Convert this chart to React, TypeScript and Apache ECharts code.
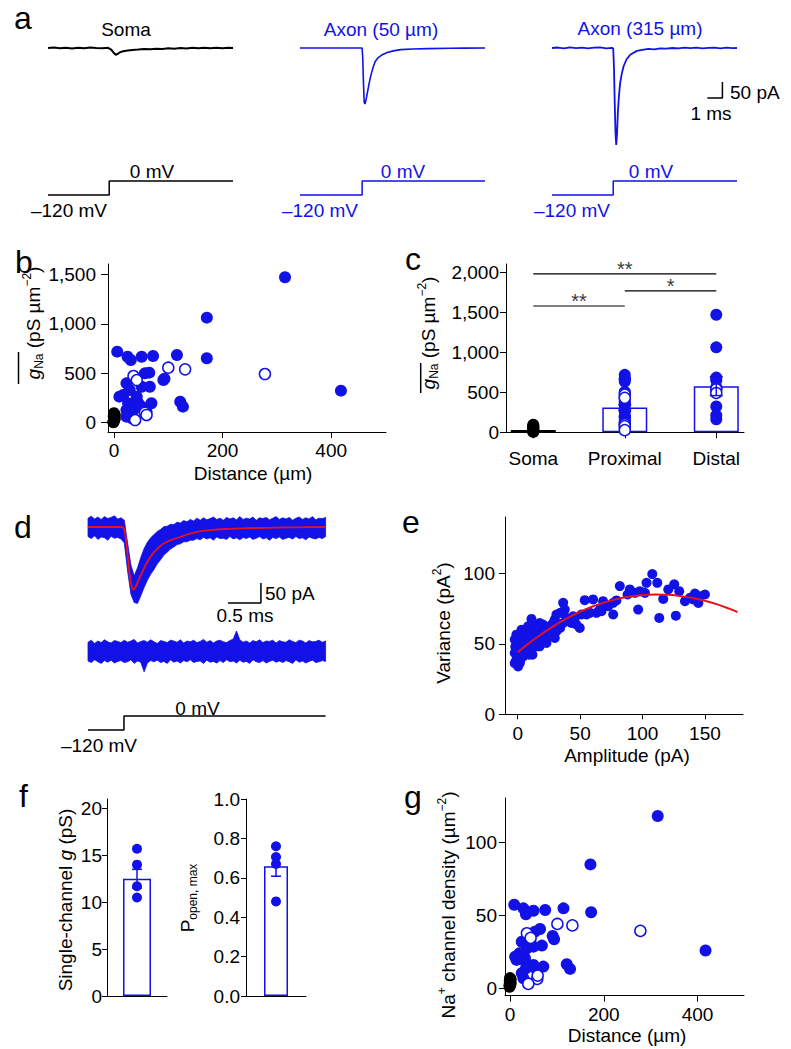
import React, { useEffect, useRef } from "react";
import * as echarts from "echarts";

const BLUE = "#1212e6";
const RED = "#e8101c";
const FONT = "'Liberation Sans', Arial, Helvetica, sans-serif";

// ---------------- panel a : currents (pA) vs time (ms) ----------------
const somaT = [0,0.4,0.8,1.2,1.6,2,2.4,2.8,3.2,3.6,4,4.2,4.35,4.5,4.65,4.8,5,5.3,5.6,6,6.4,6.8,7.2,7.6,8,8.4,8.8,9.2,9.6,10,10.4,10.8,11.2,11.6,12,12.3];
const somaI = [0,1.5,-1,1,-1.5,1,-0.5,1.5,0,-1,0.5,-5,-14,-21,-18,-13,-10,-8,-6,-5,-3,-4,-2,-3,-1,-2,0,-1.5,0.5,-1,1,-0.5,1,-1,0.5,0];
const ax50T = [0,1,2,3,4,4.13,4.17,4.22,4.27,4.32,4.4,4.5,4.6,4.7,4.85,5.0,5.2,5.5,5.8,6.2,6.7,7.5,8.5,10,11,12.3];
const ax50I = [0,0,0,0,0,0,-30,-110,-170,-175,-160,-135,-110,-88,-62,-42,-30,-20,-14,-9,-5,-3,-2,-1,-0.5,0];
const ax315T = [0,0.4,0.8,1.2,1.6,2,2.4,2.8,3.2,3.6,4,4.07,4.12,4.17,4.22,4.27,4.32,4.38,4.45,4.53,4.64,4.76,4.95,5.2,5.64,6.0,6.4,6.8,7.2,7.6,8,8.4,8.8,9.2,9.6,10,10.4,10.8,11.2,11.6,12,12.3];
const ax315I = [0,1.5,-1,2,-0.5,1,-1.5,1,2,-1,0.5,-2,-60,-170,-265,-303,-270,-200,-150,-110,-80,-57,-36,-21,-9,-6,-3,-4,-1,-2,0,-1,1,-0.5,1.5,-1,0.5,1,-1,1.5,-0.5,0];
const stepSomaT = [0, 4.07, 4.07, 12.3];
const stepAx50T = [0, 4.13, 4.13, 12.3];
const stepAx315T = [0, 4.07, 4.07, 12.3];
const stepV = [-120, -120, 0, 0];
const aScaleT = [10.33, 11.33, 11.33];
const aScaleI = [-156, -156, -106];

// ---------------- panel b : g_Na vs distance ----------------
const bDistFilled = [315,171,171,418,6,25,31,51,72,116,91,93,57,65,51,66,23,29,10,17,26,23,36,45,51,69,122,127,33,23,60,42];
const bGFilled = [1470,1062,651,324,718,667,634,667,674,684,431,445,499,506,364,364,398,330,263,280,196,128,128,196,162,196,212,162,44,61,111,263];
const bDistOpen = [100,131,278,36,42,57,60,39];
const bGOpen = [556,539,492,472,431,101,78,27];
const somaDist = [-1,0,1,0.5,-0.5,1.5,0,1,-1,0.5];
const somaG = [10,25,40,55,65,80,95,35,5,70];

// ---------------- panel c ----------------
const cCats = ["Soma", "Proximal", "Distal"];
const cMean = [30, 310, 576];
const cLo = [30, 275, 459];
const cHi = [30, 342, 693];
const sigX1 = [0, 1, 0];
const sigX2 = [2, 2, 1];
const sigY = [1980, 1767, 1579];
const sigTxt = ["**", "*", "**"];

// ---------------- panel d ----------------
const bandT = [0,0.05,0.1,0.15,0.2,0.25,0.3,0.35,0.4,0.45,0.5,0.55,0.6,0.65,0.7,0.75,0.8,0.85,0.9,0.95,1.0,1.05,1.1,1.15,1.2,1.25,1.3,1.35,1.4,1.45,1.5,1.55,1.6,1.65,1.7,1.75,1.8,1.85,1.9,1.95,2.0,2.05,2.1,2.15,2.2,2.25,2.3,2.35,2.4,2.45,2.5,2.55,2.6,2.65,2.7,2.75,2.8,2.85,2.9,2.95,3.0,3.05,3.1,3.15,3.2,3.25,3.3,3.35,3.4,3.45,3.5,3.55,3.6];
const bandHi = [22,27,20,25,19,26,21,24,28,20,23,17,-40,-95,-122,-102,-76,-54,-38,-27,-19,-11,-6,1,2,7,6,12,10,16,13,19,15,22,17,23,18,21,25,19,22,17,24,20,23,18,26,19,22,20,25,17,23,21,24,18,22,26,19,23,20,24,17,22,25,19,23,20,26,18,22,21,24];
const bandLo = [-24,-29,-22,-31,-25,-27,-33,-23,-28,-26,-30,-40,-110,-168,-189,-191,-172,-151,-133,-118,-106,-92,-82,-70,-63,-55,-50,-44,-42,-37,-37,-33,-33,-29,-32,-26,-30,-27,-33,-25,-29,-28,-31,-24,-30,-27,-32,-26,-29,-25,-31,-28,-24,-30,-27,-33,-26,-29,-25,-31,-28,-26,-30,-24,-29,-27,-32,-25,-28,-30,-26,-29,-24];
const fitT = [0,0.5,0.54,0.57,0.6,0.63,0.66,0.69,0.72,0.76,0.8,0.89,1.0,1.14,1.27,1.39,1.52,1.65,1.85,2.1,2.4,2.7,3.0,3.3,3.6];
const fitI = [0,0,-3,-25,-70,-118,-148,-156,-150,-135,-120,-90,-63,-42,-32,-25,-18,-12,-8,-5,-3,-2,-1,-0.5,0];
const noiseHi = [22,27,19,25,21,28,23,20,26,24,21,27,22,25,29,20,24,26,22,28,23,19,26,24,21,27,25,22,28,20,25,23,27,21,24,29,22,26,20,25,27,23,21,26,30,50,28,22,25,20,26,23,28,21,25,24,27,20,26,23,22,28,24,21,27,25,20,26,23,24,27,22,25];
const noiseLo = [-25,-29,-22,-27,-31,-24,-28,-23,-30,-26,-24,-29,-27,-22,-31,-25,-28,-52,-30,-24,-27,-23,-29,-26,-31,-22,-28,-25,-30,-24,-27,-22,-29,-26,-25,-31,-23,-28,-26,-30,-24,-29,-22,-27,-25,-30,-23,-28,-26,-31,-22,-27,-29,-24,-30,-26,-23,-28,-25,-29,-24,-27,-31,-22,-28,-25,-30,-26,-23,-29,-27,-24,-26];
const dStepT = [0, 0.545, 0.545, 3.6];
const dScaleT = [2.12, 2.62, 2.62];
const dScaleI = [-190, -190, -140];

// ---------------- panel e ----------------
const eAmp = [107.8,103.2,111.8,125.4,120.6,129.4,81.8,89.8,93.9,97.9,88,101.9,96.5,113.4,126.7,116.6,134,138,142,146,150,144.7,140.6,76.5,67.1,60.4,53.7,68.4,71.1,76.5,79.1,55.1,57.8,51,49.7,47,36.4,37.7,34,39,44.4,31,29.7,28.3,29.7,23,25.7,20.3,17.6,16.3,23,17.6,20.3,11,12.3,13.6,11,11.8,15,8.3,7,4.3,1.6,0.3,-1.1,-2.4,0.3,1.6,2.9,5.6,8.3,4.3,-2.4,-1.1,5.6,9.6,2.9,-2.4,7,11,1.6,-1.1,4.8,9.1,12.3,15,17.6,21.7,24.3,27,31,34,36.4,40.4,43,45.7,27,63.1,65.8,72.5,0,1,-1,2,3,0,1,4,6,3,10,12,14,8,5,2,-2,6,9,13];
const eVar = [99.5,93.3,93.3,92.2,88.6,87.4,91,88.6,86.2,87.4,85,86.2,74.3,68.4,70,81.9,80.3,82.7,85.7,83.8,85,79,81.5,70.8,73.2,81.5,81,80.3,77.2,79.1,80.8,70.8,72,70.8,61.3,63.7,79.1,74.3,72,68.4,69.6,70.8,67.2,64.8,54.2,57.7,62.5,63.7,64.8,61.3,50.6,53,57.7,67.7,62.5,57.7,53,42.3,48.2,50.6,45.8,41.1,36.3,34,38.7,43.5,48.2,53,57.7,58.9,62.5,54.2,53,56.5,48.2,57.7,41.1,36.3,53,48.2,45.8,45.8,44.7,42.3,48.2,53,48.2,53,55.3,57.7,58.9,61.3,64.8,67.2,64.8,68.4,61.3,72,74.3,76.7,52,56,50,47,44,40,42,52,55,60,44,58,62,58,49,38,48,46,54,51];
const eFitX = [0,10,20,30,40,50,60,70,80,90,100,110,120,130,140,150,160,170,176];
const eFitY = [44,51.1,57.5,63.3,68.4,72.8,76.5,79.5,81.9,83.6,84.6,85.0,84.8,84.0,82.6,80.6,78.0,74.8,72.6];

// ---------------- panel f ----------------
const fgVals = [15.7, 14.0, 11.7, 10.5];
const fgMean = 12.5;
const fgSem = 1.0;
const fpVals = [0.76, 0.705, 0.67, 0.48];
const fpMean = 0.658;
const fpSem = 0.05;

// ---------------- panel g ----------------
const gDistFilled = [315,171.5,173,417,9,28.5,34,50,75,114,91,94,53,64,68,50,36,25,20,11,14,28.5,32,50,57,71,25,28.5,39,121,128,34];
const gDensFilled = [118.3,85.1,52.2,25.9,57.4,54.9,50.8,53.3,53.8,54.9,35.9,33.6,38.9,40.7,29.3,28.6,27.5,32,24,21.7,19.5,19.5,20.6,16,12.6,14.9,10.3,6.9,3.4,16.5,13.3,13.7];
const gDistOpen = [101,133,278,36,44,58,59,39];
const gDensOpen = [44.2,43.2,39.4,37.8,34.6,6.4,8.7,3];
const gSomaDist = [-1,0,1,0.5,-0.5,1.5,0,1,-1];
const gSomaDens = [1,2,3,4,5,6,7,3.5,2.5];

const zip = (a: number[], b: number[]) => a.map((v, i) => [v, b[i]]);
const comma = (v: number) => Math.round(v).toLocaleString("en-US");

function buildOption() {
  const grid: any[] = [], xAxis: any[] = [], yAxis: any[] = [], series: any[] = [];
  const addGrid = (left: number, top: number, width: number, height: number, x: any, y: any) => {
    const i = grid.length;
    grid.push({ left, top, width, height, containLabel: false });
    xAxis.push({ gridIndex: i, ...x });
    yAxis.push({ gridIndex: i, ...y });
    return i;
  };
  const hid = (min: number, max: number) => ({ type: "value", min, max, show: false });
  const vis = (min: number, max: number, ticks: number[], fmt: any, margin: number, tickLen = 6) => ({
    type: "value", min, max,
    axisLine: { show: true, onZero: false, lineStyle: { color: "#000", width: 1 } },
    axisTick: { show: true, inside: false, length: tickLen, lineStyle: { color: "#000", width: 1 }, customValues: ticks },
    axisLabel: { show: true, color: "#000", fontSize: 19, fontFamily: FONT, margin, customValues: ticks, formatter: fmt },
    splitLine: { show: false },
  });
  const line = (gi: number, data: any[], color: string, width: number, z = 2, extra: any = {}) => ({
    type: "line", xAxisIndex: gi, yAxisIndex: gi, data, showSymbol: false, symbol: "none", silent: true,
    lineStyle: { color, width }, z, clip: false, ...extra,
  });
  const scat = (gi: number, data: any[], size: number, color: string, open = false, z = 3) => ({
    type: "scatter", xAxisIndex: gi, yAxisIndex: gi, data, symbol: "circle", symbolSize: size, silent: true, z,
    itemStyle: open ? { color: "#fff", borderColor: color, borderWidth: 1.5, opacity: 1 } : { color, opacity: 1 },
  });
  const band = (gi: number, T: number[], hi: number[], lo: number[]) => ({
    type: "custom", xAxisIndex: gi, yAxisIndex: gi, silent: true, clip: false, z: 2,
    data: [[T[0], hi[0]]],
    renderItem: (_p: any, api: any) => {
      const pts: number[][] = [];
      for (let i = 0; i < T.length; i++) pts.push(api.coord([T[i], hi[i]]));
      for (let i = T.length - 1; i >= 0; i--) pts.push(api.coord([T[i], lo[i]]));
      return { type: "polygon", shape: { points: pts }, style: { fill: BLUE, stroke: BLUE, lineWidth: 0.8 } };
    },
  });
  const err = (gi: number, data: number[][], color: string, cap: number, z: number) => ({
    type: "custom", xAxisIndex: gi, yAxisIndex: gi, silent: true, clip: false, z, data,
    renderItem: (_p: any, api: any) => {
      const x = api.value(0), lo = api.value(1), hi = api.value(2);
      const a = api.coord([x, lo]), b = api.coord([x, hi]);
      const h = cap / 2;
      const st = { stroke: color, lineWidth: 1.5 };
      return {
        type: "group",
        children: [
          { type: "line", shape: { x1: a[0], y1: a[1], x2: b[0], y2: b[1] }, style: st },
          { type: "line", shape: { x1: a[0] - h, y1: a[1], x2: a[0] + h, y2: a[1] }, style: st },
          { type: "line", shape: { x1: b[0] - h, y1: b[1], x2: b[0] + h, y2: b[1] }, style: st },
        ],
      };
    },
  });

  // ---- panel a ----
  const aLefts = [48, 300, 552];
  const aI = aLefts.map((l) => addGrid(l, 41.6, 185, 108.8, hid(0, 12.3), hid(-320, 20)));
  const aV = aLefts.map((l) => addGrid(l, 180.4, 185, 15.17, hid(0, 12.3), hid(-125, 5)));
  series.push(line(aI[0], zip(somaT, somaI), "#000", 2));
  series.push(line(aI[1], zip(ax50T, ax50I), BLUE, 1.6));
  series.push(line(aI[2], zip(ax315T, ax315I), BLUE, 1.8));
  series.push(line(aI[2], zip(aScaleT, aScaleI), "#000", 1.5));
  series.push(line(aV[0], zip(stepSomaT, stepV), "#000", 1.5));
  series.push(line(aV[1], zip(stepAx50T, stepV), BLUE, 1.5));
  series.push(line(aV[2], zip(stepAx315T, stepV), BLUE, 1.5));

  // ---- panel b ----
  const gb = addGrid(108, 264, 278, 168,
    vis(-11, 501, [0, 200, 400], comma, 9),
    vis(-94, 1604, [0, 500, 1000, 1500], comma, 12, 7));
  series.push(scat(gb, zip(bDistFilled, bGFilled), 12, BLUE));
  series.push(scat(gb, zip(bDistOpen, bGOpen), 11, BLUE, true, 4));
  series.push(scat(gb, zip(somaDist, somaG), 12, "#000", false, 5));

  // ---- panel c ----
  const gc = addGrid(506, 264, 238, 168.3,
    vis(-0.298, 2.303, [0, 1, 2], (v: number) => cCats[Math.round(v)], 17),
    vis(0, 2104, [0, 500, 1000, 1500, 2000], comma, 7));
  series.push({
    type: "bar", xAxisIndex: gc, yAxisIndex: gc, barWidth: 45, silent: true, z: 1,
    data: cMean.map((m, i) => ({ value: [i, m], itemStyle: { color: "#fff", borderColor: i === 0 ? "#000" : BLUE, borderWidth: 1.5 } })),
  });
  const proxF = bGFilled.filter((_, i) => bDistFilled[i] < 95);
  const distF = bGFilled.filter((_, i) => bDistFilled[i] >= 95);
  const proxO = bGOpen.filter((_, i) => bDistOpen[i] < 95);
  const distO = bGOpen.filter((_, i) => bDistOpen[i] >= 95);
  series.push(scat(gc, somaG.map((v) => [0, v]), 12, "#000"));
  series.push(scat(gc, proxF.map((v) => [1, v]).concat(distF.map((v) => [2, v])), 12, BLUE));
  series.push(scat(gc, proxO.map((v) => [1, v]).concat(distO.map((v) => [2, v])), 11, BLUE, true, 4));
  series.push(err(gc, [[1, cLo[1], cHi[1]], [2, cLo[2], cHi[2]]], BLUE, 13, 6));
  sigY.forEach((y, k) => {
    series.push(line(gc, [[sigX1[k], y], [sigX2[k], y]], "#000", 1.2));
  });
  series.push({
    type: "scatter", xAxisIndex: gc, yAxisIndex: gc, symbolSize: 0, silent: true, z: 7,
    data: sigY.map((y, k) => ({ value: [(sigX1[k] + sigX2[k]) / 2, y], label: { formatter: sigTxt[k] } })),
    label: { show: true, position: "top", distance: 0, offset: [0, 5], fontSize: 20, color: "#000", fontFamily: FONT },
  });

  // ---- panel d ----
  const gd1 = addGrid(88, 511, 237.6, 96, hid(0, 3.6), hid(-200, 40));
  const gd2 = addGrid(88, 627, 237.6, 48, hid(0, 3.6), hid(-60, 60));
  const gd3 = addGrid(88, 715.4, 237.6, 15.17, hid(0, 3.6), hid(-125, 5));
  series.push(band(gd1, bandT, bandHi, bandLo));
  series.push(line(gd1, zip(fitT, fitI), RED, 1.8, 5, { smooth: 0.3 }));
  series.push(line(gd1, zip(dScaleT, dScaleI), "#000", 1.5));
  series.push(band(gd2, bandT, noiseHi, noiseLo));
  series.push(line(gd3, zip(dStepT, stepV), "#000", 1.5));

  // ---- panel e ----
  const ge = addGrid(505, 517, 238, 197.3,
    vis(-10.2, 180.5, [0, 50, 100, 150], (v: number) => String(v), 10, 5),
    vis(0, 140, [0, 50, 100], (v: number) => String(v), 10, 6));
  series.push(scat(ge, zip(eAmp, eVar), 10, BLUE));
  series.push(line(ge, zip(eFitX, eFitY), RED, 2, 5, { smooth: true }));

  // ---- panel f ----
  const fX = {
    type: "category", data: ["x"],
    axisLine: { show: true, lineStyle: { color: "#000", width: 1 } },
    axisTick: { show: false }, axisLabel: { show: false }, splitLine: { show: false },
  };
  const gfl = addGrid(107, 799, 60, 197, fX, vis(0, 21, [0, 5, 10, 15, 20], (v: number) => String(v), 5, 5));
  const gfr = addGrid(246, 799, 60, 197, fX, vis(0, 1.0, [0, 0.2, 0.4, 0.6, 0.8, 1.0], (v: number) => v.toFixed(1), 6, 5));
  series.push({ type: "bar", xAxisIndex: gfl, yAxisIndex: gfl, barWidth: 28, silent: true, z: 1, data: [fgMean], itemStyle: { color: "#fff", borderColor: BLUE, borderWidth: 1.5 } });
  series.push({ type: "bar", xAxisIndex: gfr, yAxisIndex: gfr, barWidth: 24, silent: true, z: 1, data: [fpMean], itemStyle: { color: "#fff", borderColor: BLUE, borderWidth: 1.5 } });
  series.push(err(gfl, [[0, fgMean - fgSem, fgMean + fgSem]], BLUE, 10, 2));
  series.push(err(gfr, [[0, fpMean - fpSem, fpMean + fpSem]], BLUE, 10, 2));
  series.push(scat(gfl, fgVals.map((v) => [0, v]), 10, BLUE));
  series.push(scat(gfr, fpVals.map((v) => [0, v]), 10, BLUE));

  // ---- panel g ----
  const gg = addGrid(505, 798, 239, 197.7,
    vis(-10.7, 499, [0, 200, 400], comma, 9),
    vis(-5.1, 130.7, [0, 50, 100], (v: number) => String(v), 8));
  series.push(scat(gg, zip(gDistFilled, gDensFilled), 12, BLUE));
  series.push(scat(gg, zip(gDistOpen, gDensOpen), 11, BLUE, true, 4));
  series.push(scat(gg, zip(gSomaDist, gSomaDens), 12, "#000", false, 5));

  // ---- texts ----
  const rich = {
    i: { fontStyle: "italic", fontSize: 19, fontFamily: FONT },
    sub: { fontSize: 12, fontFamily: FONT, verticalAlign: "bottom" },
    sup: { fontSize: 12, fontFamily: FONT, verticalAlign: "top" },
    p: { fontSize: 19, fontFamily: FONT },
  };
  const T = (text: string, x: number, y: number, o: any = {}) => ({
    type: "text", x, y, rotation: o.rot || 0, silent: true, z: 100,
    style: {
      text, fill: o.color || "#000", fontSize: o.size || 19, fontFamily: FONT,
      align: o.align || "center", verticalAlign: "middle",
      fontStyle: o.italic ? "italic" : "normal",
      rich: o.rich, lineHeight: o.lh,
    },
  });
  const R = Math.PI / 2;
  const graphic: any[] = [
    T("a", 14, 17.5, { size: 32, align: "left" }),
    T("b", 15, 262, { size: 32, align: "left" }),
    T("c", 405, 259, { size: 32, align: "left" }),
    T("d", 14, 527, { size: 32, align: "left" }),
    T("e", 402, 522, { size: 32, align: "left" }),
    T("f", 19, 795.5, { size: 32, align: "left" }),
    T("g", 404, 797, { size: 32, align: "left" }),
    T("Soma", 126, 29.4),
    T("Axon (50 µm)", 381, 29.4, { color: BLUE }),
    T("Axon (315 µm)", 640, 28.5, { color: BLUE }),
    T("0 mV", 152, 171.7),
    T("0 mV", 403, 171.7, { color: BLUE }),
    T("0 mV", 651, 171.7, { color: BLUE }),
    T("–120 mV", 69, 210.7),
    T("–120 mV", 320, 210.7, { color: BLUE }),
    T("–120 mV", 572, 210.7, { color: BLUE }),
    T("50 pA", 730, 92.7, { align: "left" }),
    T("1 ms", 711, 113.4),
    T("Distance (µm)", 253, 473.4),
    T("{i|g}{sub|Na} (pS µm{sup|−2})", 33, 323, { rot: R, rich, lh: 24 }),
    T("{i|g}{sub|Na} (pS µm{sup|−2})", 428, 333, { rot: R, rich, lh: 24 }),
    T("50 pA", 265, 593.4, { align: "left" }),
    T("0.5 ms", 245, 615),
    T("0 mV", 197.5, 708.4),
    T("–120 mV", 99, 745),
    T("Amplitude (pA)", 627, 755),
    T("Variance (pA{sup|2})", 443.3, 623, { rot: R, rich, lh: 24 }),
    T("Single-channel {i|g} (pS)", 65, 900, { rot: R, rich, lh: 24 }),
    T("{p|P}{sub|open, max}", 187, 898, { rot: R, rich, lh: 24 }),
    T("Na{sup|+} channel density (µm{sup|−2})", 448, 905, { rot: R, rich, lh: 24 }),
    T("Distance (µm)", 627, 1035),
    { type: "line", silent: true, z: 100, shape: { x1: 18.5, y1: 352, x2: 18.5, y2: 384 }, style: { stroke: "#000", lineWidth: 1.5 } },
    { type: "line", silent: true, z: 100, shape: { x1: 420.7, y1: 363, x2: 420.7, y2: 393 }, style: { stroke: "#000", lineWidth: 1.5 } },
  ];

  return {
    animation: false,
    backgroundColor: "#fff",
    textStyle: { fontFamily: FONT },
    grid, xAxis, yAxis, series, graphic,
  };
}

export default function App() {
  const ref = useRef<HTMLDivElement>(null);
  useEffect(() => {
    const chart = echarts.init(ref.current!, null, { renderer: "svg", width: 791, height: 1049 });
    chart.setOption(buildOption() as any);
    return () => chart.dispose();
  }, []);
  return (
    <div
      ref={ref}
      style={{ position: "absolute", left: 0, top: 0, width: 791, height: 1049, background: "#fff" }}
    />
  );
}
